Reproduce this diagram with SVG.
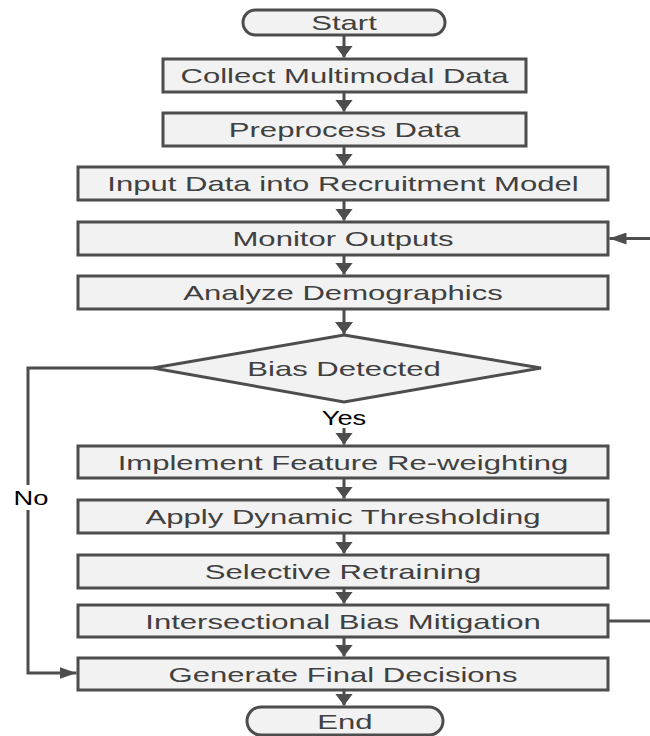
<svg xmlns="http://www.w3.org/2000/svg" width="650" height="736" viewBox="0 0 650 736">
<style>
.box{fill:#f2f2f2;stroke:#4d4d4d;stroke-width:3}
.t{font-family:"Liberation Sans",Arial,sans-serif;font-size:21px;fill:#404040;text-anchor:middle}
.lbl{font-family:"Liberation Sans",Arial,sans-serif;font-size:21px;fill:#000;text-anchor:middle}
.c{fill:none;stroke:#4d4d4d;stroke-width:3}
</style>
<defs>
<marker id="aV" viewBox="0 0 12 18" refX="12" refY="9" markerWidth="12" markerHeight="18" markerUnits="userSpaceOnUse" orient="auto"><path d="M0,0 L12,9 L0,18 z" fill="#4d4d4d"/></marker>
<marker id="aH" viewBox="0 0 17 12" refX="17" refY="6" markerWidth="17" markerHeight="12" markerUnits="userSpaceOnUse" orient="auto"><path d="M0,0 L17,6 L0,12 z" fill="#4d4d4d"/></marker>
</defs>
<rect width="650" height="736" fill="#fff"/>
<g id="connectors">
<line class="c" x1="344" y1="35" x2="344" y2="57.5" marker-end="url(#aV)"/>
<line class="c" x1="344" y1="92" x2="344" y2="111.5" marker-end="url(#aV)"/>
<line class="c" x1="344" y1="146" x2="344" y2="165.5" marker-end="url(#aV)"/>
<line class="c" x1="344" y1="200" x2="344" y2="220.5" marker-end="url(#aV)"/>
<line class="c" x1="344" y1="255" x2="344" y2="274.5" marker-end="url(#aV)"/>
<line class="c" x1="344" y1="309" x2="344" y2="334" marker-end="url(#aV)"/>
<line class="c" x1="344" y1="428" x2="344" y2="444.5" marker-end="url(#aV)"/>
<line class="c" x1="344" y1="478" x2="344" y2="498.5" marker-end="url(#aV)"/>
<line class="c" x1="344" y1="533" x2="344" y2="553.5" marker-end="url(#aV)"/>
<line class="c" x1="344" y1="588" x2="344" y2="603.5" marker-end="url(#aV)"/>
<line class="c" x1="344" y1="637" x2="344" y2="656.5" marker-end="url(#aV)"/>
<line class="c" x1="344" y1="690" x2="344" y2="705.5" marker-end="url(#aV)"/>
<polyline class="c" points="153,368 28,368 28,673 76.5,673" marker-end="url(#aH)"/>
<polyline class="c" points="608,621 660,621 660,238.5 609.5,238.5" marker-end="url(#aH)"/>
<rect x="10" y="485" width="44" height="25" fill="#fff"/>
<text class="lbl" transform="translate(31,505) scale(1.3,1)">No</text>
<text class="lbl" transform="translate(344,425) scale(1.3,1)">Yes</text>
</g>
<g id="start"><rect class="box" x="243" y="10" width="202" height="25" rx="12.5"/><text class="t" transform="translate(344,30) scale(1.48,1)">Start</text></g>
<g id="collect"><rect class="box" x="163" y="59" width="363" height="33"/><text class="t" transform="translate(344.5,83) scale(1.48,1)">Collect Multimodal Data</text></g>
<g id="preprocess"><rect class="box" x="163" y="113" width="363" height="33"/><text class="t" transform="translate(344.5,137) scale(1.48,1)">Preprocess Data</text></g>
<g id="input"><rect class="box" x="78" y="167" width="530" height="33"/><text class="t" transform="translate(343,191) scale(1.48,1)">Input Data into Recruitment Model</text></g>
<g id="monitor"><rect class="box" x="78" y="222" width="530" height="33"/><text class="t" transform="translate(343,246) scale(1.48,1)">Monitor Outputs</text></g>
<g id="analyze"><rect class="box" x="78" y="276" width="530" height="33"/><text class="t" transform="translate(343,300) scale(1.48,1)">Analyze Demographics</text></g>
<g id="bias"><polygon class="box" points="344,335 541,368 344,402 153,368"/><text class="t" transform="translate(344,376) scale(1.48,1)">Bias Detected</text></g>
<g id="implement"><rect class="box" x="78" y="446" width="530" height="32"/><text class="t" transform="translate(343,469.5) scale(1.48,1)">Implement Feature Re-weighting</text></g>
<g id="apply"><rect class="box" x="78" y="500" width="530" height="33"/><text class="t" transform="translate(343,524) scale(1.48,1)">Apply Dynamic Thresholding</text></g>
<g id="selective"><rect class="box" x="78" y="555" width="530" height="33"/><text class="t" transform="translate(343,579) scale(1.48,1)">Selective Retraining</text></g>
<g id="intersectional"><rect class="box" x="78" y="605" width="530" height="32"/><text class="t" transform="translate(343,628.5) scale(1.48,1)">Intersectional Bias Mitigation</text></g>
<g id="generate"><rect class="box" x="78" y="658" width="530" height="32"/><text class="t" transform="translate(343,681.5) scale(1.48,1)">Generate Final Decisions</text></g>
<g id="end"><rect class="box" x="247" y="707" width="196" height="28" rx="14"/><text class="t" transform="translate(345,729) scale(1.48,1)">End</text></g>
</svg>
